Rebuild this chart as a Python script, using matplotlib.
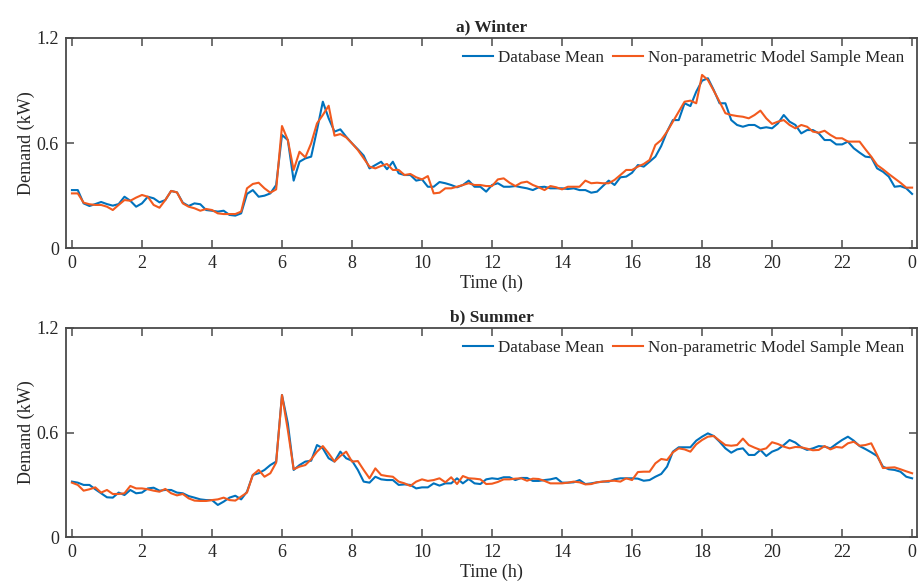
import numpy as np
import matplotlib
matplotlib.use("Agg")
import matplotlib.pyplot as plt

# Mean household demand profiles at 10-minute resolution (kW)
winter_database = [
    0.331, 0.331, 0.255, 0.240, 0.251, 0.263, 0.251, 0.242, 0.251, 0.293,
    0.270, 0.236, 0.255, 0.293, 0.284, 0.261, 0.274, 0.326, 0.318, 0.259,
    0.240, 0.255, 0.250, 0.217, 0.213, 0.208, 0.213, 0.189, 0.185, 0.198,
    0.309, 0.331, 0.293, 0.299, 0.312, 0.360, 0.646, 0.617, 0.385, 0.493,
    0.512, 0.522, 0.674, 0.836, 0.741, 0.665, 0.678, 0.636, 0.598, 0.564,
    0.528, 0.455, 0.474, 0.493, 0.450, 0.493, 0.427, 0.417, 0.417, 0.385,
    0.392, 0.350, 0.350, 0.377, 0.370, 0.360, 0.347, 0.360, 0.385, 0.350,
    0.350, 0.322, 0.360, 0.370, 0.350, 0.350, 0.354, 0.347, 0.341, 0.331,
    0.347, 0.350, 0.341, 0.341, 0.341, 0.337, 0.341, 0.331, 0.331, 0.316,
    0.322, 0.354, 0.385, 0.360, 0.404, 0.408, 0.430, 0.474, 0.465, 0.493,
    0.522, 0.583, 0.665, 0.731, 0.731, 0.827, 0.811, 0.893, 0.956, 0.970,
    0.903, 0.827, 0.827, 0.731, 0.703, 0.693, 0.703, 0.703, 0.684, 0.690,
    0.684, 0.712, 0.760, 0.722, 0.703, 0.655, 0.674, 0.674, 0.655, 0.617,
    0.617, 0.592, 0.592, 0.608, 0.570, 0.545, 0.522, 0.518, 0.455, 0.436,
    0.408, 0.350, 0.354, 0.341, 0.309,
]
winter_model = [
    0.312, 0.312, 0.259, 0.250, 0.246, 0.246, 0.236, 0.217, 0.246, 0.274,
    0.270, 0.288, 0.303, 0.293, 0.246, 0.230, 0.274, 0.326, 0.318, 0.255,
    0.236, 0.227, 0.213, 0.223, 0.217, 0.198, 0.194, 0.194, 0.194, 0.208,
    0.341, 0.366, 0.373, 0.341, 0.316, 0.335, 0.697, 0.617, 0.446, 0.550,
    0.518, 0.598, 0.712, 0.760, 0.813, 0.642, 0.651, 0.632, 0.598, 0.560,
    0.512, 0.465, 0.455, 0.469, 0.480, 0.446, 0.446, 0.417, 0.423, 0.404,
    0.392, 0.411, 0.312, 0.316, 0.341, 0.341, 0.350, 0.360, 0.370, 0.360,
    0.360, 0.354, 0.354, 0.392, 0.398, 0.373, 0.354, 0.373, 0.379, 0.360,
    0.347, 0.331, 0.354, 0.347, 0.335, 0.350, 0.350, 0.350, 0.385, 0.370,
    0.373, 0.370, 0.370, 0.389, 0.417, 0.446, 0.446, 0.465, 0.480, 0.503,
    0.589, 0.617, 0.665, 0.722, 0.779, 0.836, 0.842, 0.827, 0.989, 0.960,
    0.899, 0.836, 0.770, 0.760, 0.754, 0.750, 0.741, 0.760, 0.785, 0.741,
    0.709, 0.722, 0.731, 0.703, 0.684, 0.703, 0.693, 0.665, 0.659, 0.670,
    0.646, 0.627, 0.627, 0.608, 0.608, 0.608, 0.564, 0.522, 0.474, 0.450,
    0.423, 0.398, 0.373, 0.345, 0.345,
]
summer_database = [
    0.318, 0.312, 0.299, 0.299, 0.274, 0.251, 0.228, 0.226, 0.255, 0.241,
    0.270, 0.251, 0.255, 0.279, 0.283, 0.266, 0.270, 0.270, 0.255, 0.251,
    0.235, 0.226, 0.216, 0.212, 0.212, 0.184, 0.203, 0.226, 0.237, 0.216,
    0.260, 0.356, 0.366, 0.385, 0.413, 0.433, 0.815, 0.653, 0.385, 0.413,
    0.433, 0.438, 0.528, 0.509, 0.452, 0.433, 0.490, 0.452, 0.438, 0.385,
    0.318, 0.312, 0.346, 0.331, 0.327, 0.327, 0.299, 0.302, 0.299, 0.279,
    0.285, 0.285, 0.308, 0.295, 0.308, 0.308, 0.337, 0.308, 0.333, 0.308,
    0.304, 0.331, 0.337, 0.333, 0.343, 0.343, 0.327, 0.339, 0.339, 0.322,
    0.322, 0.327, 0.331, 0.339, 0.312, 0.312, 0.314, 0.327, 0.304, 0.308,
    0.314, 0.318, 0.318, 0.331, 0.337, 0.337, 0.337, 0.335, 0.323, 0.327,
    0.346, 0.362, 0.404, 0.490, 0.515, 0.515, 0.515, 0.553, 0.576, 0.595,
    0.580, 0.547, 0.509, 0.484, 0.503, 0.509, 0.471, 0.471, 0.500, 0.465,
    0.490, 0.503, 0.528, 0.557, 0.542, 0.515, 0.500, 0.509, 0.522, 0.519,
    0.509, 0.534, 0.557, 0.576, 0.553, 0.522, 0.505, 0.486, 0.465, 0.404,
    0.389, 0.385, 0.375, 0.346, 0.337,
]
summer_model = [
    0.312, 0.299, 0.266, 0.274, 0.285, 0.255, 0.270, 0.247, 0.247, 0.251,
    0.293, 0.279, 0.279, 0.274, 0.266, 0.260, 0.276, 0.251, 0.239, 0.247,
    0.222, 0.209, 0.207, 0.207, 0.212, 0.216, 0.226, 0.212, 0.209, 0.232,
    0.255, 0.356, 0.385, 0.346, 0.366, 0.427, 0.815, 0.614, 0.389, 0.404,
    0.413, 0.446, 0.490, 0.522, 0.480, 0.433, 0.465, 0.490, 0.433, 0.436,
    0.385, 0.337, 0.394, 0.356, 0.350, 0.346, 0.318, 0.308, 0.293, 0.318,
    0.331, 0.322, 0.327, 0.337, 0.314, 0.343, 0.304, 0.350, 0.337, 0.335,
    0.331, 0.304, 0.306, 0.316, 0.331, 0.331, 0.335, 0.337, 0.323, 0.335,
    0.333, 0.322, 0.308, 0.308, 0.308, 0.312, 0.318, 0.314, 0.302, 0.304,
    0.314, 0.318, 0.322, 0.323, 0.318, 0.337, 0.327, 0.373, 0.375, 0.375,
    0.423, 0.448, 0.442, 0.486, 0.509, 0.503, 0.490, 0.532, 0.557, 0.576,
    0.580, 0.553, 0.528, 0.524, 0.528, 0.565, 0.528, 0.513, 0.500, 0.509,
    0.544, 0.534, 0.519, 0.509, 0.517, 0.515, 0.507, 0.498, 0.500, 0.522,
    0.503, 0.517, 0.513, 0.538, 0.547, 0.524, 0.528, 0.538, 0.471, 0.396,
    0.398, 0.400, 0.389, 0.377, 0.366,
]

hours = np.arange(len(winter_database)) / 6.0
tick_hours = list(range(0, 25, 2))
tick_labels = ["0", "2", "4", "6", "8", "10", "12", "14", "16", "18", "20", "22", "0"]
y_ticks = [0, 0.6, 1.2]
y_tick_labels = ["0", "0.6", "1.2"]

panels = [
    ("a) Winter", winter_database, winter_model),
    ("b) Summer", summer_database, summer_model),
]

blue = "#0072BD"
orange = "#F25A1E"
edge = "#4a4a4a"
text_col = "#262626"

plt.rcParams["font.family"] = ["Liberation Serif", "DejaVu Serif"]

fig = plt.figure(figsize=(9.23, 5.86), dpi=100)
axes_boxes = [
    [66 / 923, 1 - 248 / 586, 851 / 923, 210 / 586],
    [66 / 923, 1 - 537 / 586, 851 / 923, 209 / 586],
]

for box, (title, db, model) in zip(axes_boxes, panels):
    ax = fig.add_axes(box)
    ax.plot(hours, db, color=blue, lw=1.5, label="Database Mean")
    ax.plot(hours, model, color=orange, lw=1.5, label="Non-parametric Model Sample Mean")
    ax.set_xlim(-0.17, 24.14)
    ax.set_ylim(0, 1.2)
    ax.set_xticks(tick_hours)
    ax.set_xticklabels(tick_labels)
    ax.set_yticks(y_ticks)
    ax.set_yticklabels(y_tick_labels)
    ax.tick_params(direction="in", length=6, width=1.1, color=edge,
                   labelsize=13, labelcolor=text_col,
                   top=True, right=True, pad=5)
    for s in ax.spines.values():
        s.set_color(edge)
        s.set_linewidth(1.3)
    ax.set_xlabel("Time (h)", fontsize=13, color=text_col, labelpad=2)
    ax.set_ylabel("Demand (kW)", fontsize=13, color=text_col, labelpad=1)
    ax.set_title(title, fontsize=12.5, fontweight="bold", color=text_col, pad=5)
    leg = ax.legend(loc="upper right", ncol=2, frameon=False, fontsize=12.3,
                    handlelength=1.75, handletextpad=0.3, columnspacing=0.5,
                    borderaxespad=0.1, bbox_to_anchor=(0.995, 0.985))
    for t in leg.get_texts():
        t.set_color(text_col)

fig.savefig("out.png", dpi=100)
